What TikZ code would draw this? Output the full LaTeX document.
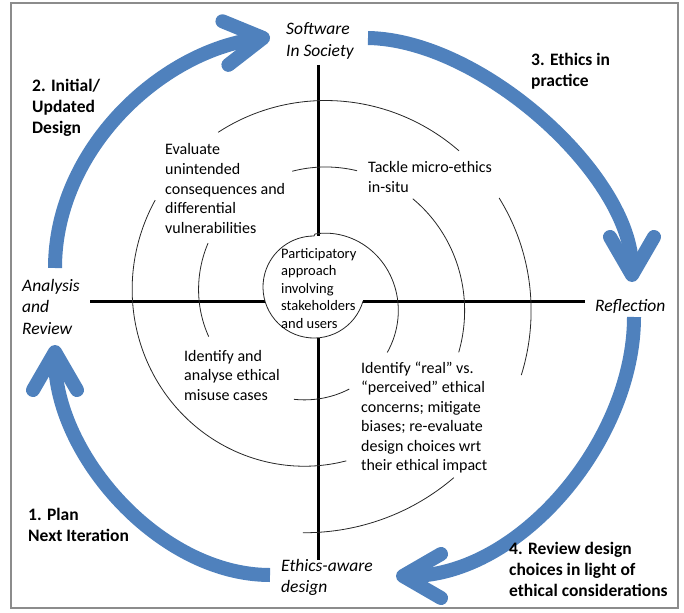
\documentclass[tikz,border=0pt]{standalone}
\usepackage{fontspec}
\setmainfont{Carlito}
\usetikzlibrary{arrows.meta}
\definecolor{cycleblue}{RGB}{79,129,189}
\definecolor{framegray}{RGB}{140,140,140}
% Archimedean spiral around the hub: r(s) = 66 + 0.185 s, s in degrees (clockwise from the top)
\newcommand\drawspiral[2]{%
  \draw[spiralline] plot[domain=#1:#2, samples=45, smooth]
    ({315+(66+0.185*\x)*cos(90-\x)}, {300-(66+0.185*\x)*sin(90-\x)});}
\begin{document}
\begin{tikzpicture}[x=1pt,y=-1pt,
  axis/.style={line width=3pt},
  spiralline/.style={line width=0.8pt, draw=black!85},
  cyclearrow/.style={draw=cycleblue, line width=14pt,
    -{Straight Barb[length=38pt,width=44pt,round]}},
  % multi-line nodes are placed by the baseline of their last line
  body/.style={font=\fontsize{16}{19.5}\selectfont, align=left, anchor=base west, inner sep=0pt},
  small/.style={font=\fontsize{14.5}{17.5}\selectfont, align=left, anchor=base west, inner sep=0pt},
  phase/.style={font=\fontsize{17.5}{21.5}\selectfont\itshape, align=left, anchor=base west, inner sep=0pt},
  step label/.style={font=\fontsize{17.5}{21}\selectfont\bfseries, align=left, anchor=base west, inner sep=0pt},
]
\useasboundingbox (0,0) rectangle (684,612);
\draw[framegray, line width=1.3pt] (11,3) rectangle (678,608);

% axes
\draw[axis] (318,65) -- (318,236);
\draw[axis] (318,338) -- (318,560);
\draw[axis] (90,301) -- (265,301);
\draw[axis] (363,301) -- (585,301);

% inner circle opening into the spiral
\draw[spiralline] (314,287) ++(16:51) arc[start angle=16, end angle=270, radius=51]
  -- plot[domain=0:126, samples=45, smooth]
    ({315+(66+0.185*\x)*cos(90-\x)}, {300-(66+0.185*\x)*sin(90-\x)});
\drawspiral{159}{192}
\drawspiral{251}{298}
\drawspiral{350}{378}
\drawspiral{404}{470}
\drawspiral{529}{662}
\drawspiral{690}{764}
\drawspiral{781}{830}
\drawspiral{862}{903}

% ends of the cycle arrows
\coordinate (a1s) at (270,575);  \coordinate (a1e) at (55,345);
\coordinate (a2s) at (55,268);   \coordinate (a2e) at (270,37);
\coordinate (a3s) at (368,38);   \coordinate (a3e) at (632,282);
\coordinate (a4s) at (634,317);  \coordinate (a4e) at (396,576);

% cycle arrows
\draw[cyclearrow] (a2s) .. controls (55,150) and (160,52) .. (a2e);
\draw[cyclearrow] (a3s) .. controls (483,40) and (632,177) .. (a3e);
\draw[cyclearrow] (a4s) .. controls (634,440) and (520,576) .. (a4e);
\draw[cyclearrow] (a1s) .. controls (160,575) and (55,455) .. (a1e);

% texts inside the quadrants
\node[small] (centre) at (281,328) {Participatory\\approach\\involving\\stakeholders\\and users};
\node[body] (evaluate) at (165,233) {Evaluate\\unintended\\consequences and\\differential\\vulnerabilities};
\node[body] (tackle) at (368,192.5) {Tackle micro-ethics\\in-situ};
\node[body] (misuse) at (184,400) {Identify and\\analyse ethical\\misuse cases};
\node[body] (concerns) at (361,470.5) {Identify “real” vs.\\“perceived” ethical\\concerns; mitigate\\biases; re-evaluate\\design choices wrt\\their ethical impact};

% phases
\node[phase] (society) at (286,56.5) {Software\\In Society};
\node[phase] (reflection) at (595,311) {Reflection};
\node[phase] (analysis) at (22,334) {Analysis\\and\\Review};
\node[phase] (design) at (281,592.5) {Ethics-aware\\design};

% steps
\node[step label] (step1) at (28,541) {1. Plan\\Next Iteration};
\node[step label] (step2) at (32,134) {2. Initial/\\Updated\\Design};
\node[step label] (step3) at (531,87) {3. Ethics in\\practice};
\node[step label] (step4) at (509,596) {4. Review design\\choices in light of\\ethical considerations};
\end{tikzpicture}
\end{document}
